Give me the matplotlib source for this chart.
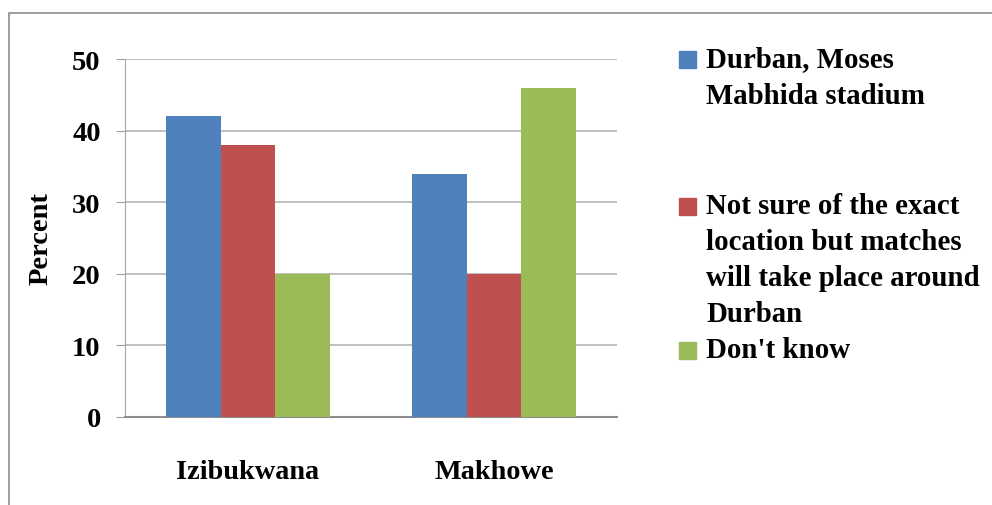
import numpy as np
import matplotlib.pyplot as plt
from matplotlib.patches import Rectangle

categories = ["Izibukwana", "Makhowe"]
series_names = [
    "Durban, Moses\nMabhida stadium",
    "Not sure of the exact\nlocation but matches\nwill take place around\nDurban",
    "Don't know",
]
durban = [42, 34]
not_sure = [38, 20]
dont_know = [20, 46]
colors = ["#4F81BD", "#C0504D", "#9BBB59"]

W, H = 992, 506


def main():
    plt.rcParams['font.family'] = ['Liberation Serif', 'DejaVu Serif']
    plt.rcParams['font.weight'] = 'bold'

    fig = plt.figure(figsize=(W / 100, H / 100), dpi=100)
    ax = fig.add_axes([125 / W, 1 - 418 / H, (617 - 125) / W, (418 - 60) / H])

    values = [durban, not_sure, dont_know]
    x = np.arange(len(categories))
    bw = 1 / 4.5  # gap width 150%
    for i, vals in enumerate(values):
        ax.bar(x + (i - 1) * bw, vals, width=bw, color=colors[i], zorder=3)

    ax.set_xlim(-0.5, len(categories) - 0.5)
    ax.set_ylim(0, 50)
    ax.set_yticks(np.arange(0, 51, 10))
    ax.set_xticks(x)
    ax.set_xticklabels(categories, fontsize=20.3, fontweight='bold')
    ax.tick_params(axis='x', length=0, pad=30)
    ax.tick_params(axis='y', length=6.5, color='#A0A0A0', pad=11, labelsize=20.5)
    ax.yaxis.grid(True, color='#B4B4B4', linewidth=1.2, zorder=0)
    ax.set_axisbelow(True)
    for s in ['top', 'right']:
        ax.spines[s].set_visible(False)
    ax.spines['left'].set_color('#A8A8A8')
    ax.spines['bottom'].set_color('#8C8C8C')
    ax.spines['bottom'].set_linewidth(1.5)
    ax.set_ylabel("Percent", fontsize=20.5, fontweight='bold', labelpad=13)

    # legend drawn by hand: swatch + wrapped label lines
    entry_y = [60, 207, 351]
    line_h = 36
    for name, col, y0 in zip(series_names, colors, entry_y):
        fig.add_artist(Rectangle((679 / W, 1 - (y0 + 8.5) / H), 17 / W, 17 / H,
                                 transform=fig.transFigure, color=col))
        for k, line in enumerate(name.split("\n")):
            fig.text(706 / W, 1 - (y0 + k * line_h) / H, line, fontsize=20.8,
                     fontweight='bold', va='center', ha='left')

    # chart frame
    fig.add_artist(Rectangle((9 / W, -0.2), 1.2, 1.2 - 14 / H, transform=fig.transFigure,
                             fill=False, edgecolor='#8C8C8C', linewidth=1.2))

    fig.savefig("out.png", dpi=100)


if __name__ == "__main__":
    main()
